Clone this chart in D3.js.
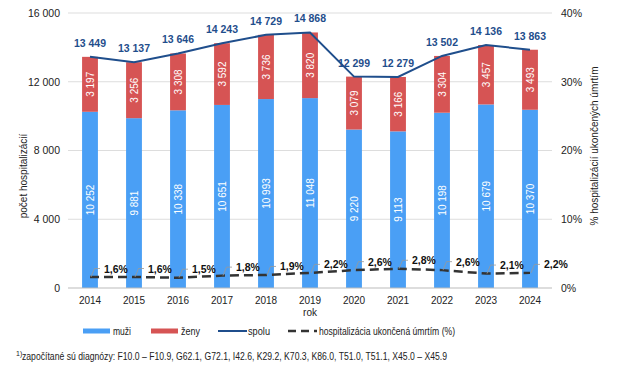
<!DOCTYPE html>
<meta charset="utf-8">
<style>
  body { margin: 0; background: #fff; }
  text { font-family: "Liberation Sans", Arial, sans-serif; }
</style>
<script src="https://d3js.org/d3.v7.min.js"></script>
<body>
<script>

var width = 621,
    height = 370,
    margin = {top: 13, right: 69, bottom: 82, left: 68};

// data
var years = ["2014","2015","2016","2017","2018","2019","2020","2021","2022","2023","2024"];
var muzi  = [10252, 9881, 10338, 10651, 10993, 11048, 9220, 9113, 10198, 10679, 10370];
var zeny  = [3197, 3256, 3308, 3592, 3736, 3820, 3079, 3166, 3304, 3457, 3493];
var spolu = [13449, 13137, 13646, 14243, 14729, 14868, 12299, 12279, 13502, 14136, 13863];
var umrtie = [1.6, 1.6, 1.5, 1.8, 1.9, 2.2, 2.6, 2.8, 2.6, 2.1, 2.2];
var leftTicks = [0, 4000, 8000, 12000, 16000];
var rightTicks = [0, 10, 20, 30, 40];

var cBlue = "#4a9ff5",
    cRed = "#d65454",
    cNavy = "#1f4e8c",
    cDash = "#333333";

var fmt = function(v){ return d3.format(",")(v).replace(/,/g, " "); };
var fmtPct = function(v){ return String(v.toFixed(1)).replace(".", ",") + "%"; };

var svg = d3.select("body").append("svg")
    .attr("width", width)
    .attr("height", height);

var x = d3.scaleBand()
    .domain(years)
    .range([margin.left, width - margin.right])
    .paddingInner(0.64)
    .paddingOuter(0.32);

var y = d3.scaleLinear().domain([0, 16000]).range([height - margin.bottom, margin.top]);
var yP = d3.scaleLinear().domain([0, 40]).range([height - margin.bottom, margin.top]);

var cx = function(i){ return x(years[i]) + x.bandwidth()/2; };

// grid
svg.append("g").selectAll("line").data(leftTicks.slice(1)).enter().append("line")
    .attr("x1", margin.left).attr("x2", width - margin.right)
    .attr("y1", function(d){ return y(d); }).attr("y2", function(d){ return y(d); })
    .attr("stroke", "#dddddd").attr("stroke-width", 1);

// left axis
var gl = svg.append("g")
    .attr("transform", "translate(" + margin.left + ",0)")
    .call(d3.axisLeft(y).tickValues(leftTicks).tickFormat(fmt).tickSize(0).tickPadding(8));
gl.select(".domain").remove();
gl.selectAll("text").attr("font-size", 10.5).attr("fill", "#222");

// right axis
var gr = svg.append("g")
    .attr("transform", "translate(" + (width - margin.right) + ",0)")
    .call(d3.axisRight(yP).tickValues(rightTicks).tickFormat(function(d){ return d + "%"; }).tickSize(0).tickPadding(9));
gr.select(".domain").remove();
gr.selectAll("text").attr("font-size", 10.5).attr("fill", "#222");

// bars
var bars = svg.append("g");
bars.selectAll(".muzi").data(muzi).enter().append("rect")
    .attr("class", "muzi")
    .attr("x", function(d, i){ return x(years[i]); })
    .attr("width", x.bandwidth())
    .attr("y", function(d){ return y(d); })
    .attr("height", function(d){ return y(0) - y(d); })
    .attr("fill", cBlue);
bars.selectAll(".zeny").data(zeny).enter().append("rect")
    .attr("class", "zeny")
    .attr("x", function(d, i){ return x(years[i]); })
    .attr("width", x.bandwidth())
    .attr("y", function(d, i){ return y(muzi[i] + d); })
    .attr("height", function(d, i){ return y(muzi[i]) - y(muzi[i] + d); })
    .attr("fill", cRed);

// bar labels
bars.selectAll(".lm").data(muzi).enter().append("text")
    .attr("transform", function(d, i){ return "translate(" + (cx(i) + 3.5) + "," + y(d/2) + ") rotate(-90)"; })
    .attr("text-anchor", "middle")
    .attr("font-size", 10).attr("fill", "#fff")
    .text(fmt);
bars.selectAll(".lz").data(zeny).enter().append("text")
    .attr("transform", function(d, i){ return "translate(" + (cx(i) + 3.5) + "," + y(muzi[i] + d/2) + ") rotate(-90)"; })
    .attr("text-anchor", "middle")
    .attr("font-size", 10).attr("fill", "#fff")
    .text(fmt);

// baseline
svg.append("line")
    .attr("x1", margin.left).attr("x2", width - margin.right)
    .attr("y1", y(0)).attr("y2", y(0))
    .attr("stroke", "#bbbbbb").attr("stroke-width", 1);

// spolu line
svg.append("path")
    .datum(spolu)
    .attr("fill", "none")
    .attr("stroke", cNavy)
    .attr("stroke-width", 2)
    .attr("d", d3.line().x(function(d, i){ return cx(i); }).y(function(d){ return y(d); }));
svg.append("g").selectAll("text").data(spolu).enter().append("text")
    .attr("x", function(d, i){ return cx(i); })
    .attr("y", function(d){ return y(d) - 10; })
    .attr("text-anchor", "middle")
    .attr("font-size", 10.5).attr("font-weight", "bold").attr("fill", cNavy)
    .text(fmt);

// umrtie dashed line
svg.append("path")
    .datum(umrtie)
    .attr("fill", "none")
    .attr("stroke", cDash)
    .attr("stroke-width", 2.5)
    .attr("stroke-dasharray", "9,5")
    .attr("d", d3.line().x(function(d, i){ return cx(i); }).y(function(d){ return yP(d); }));
var pl = svg.append("g");
pl.selectAll("path").data(umrtie).enter().append("path")
    .attr("fill", "none").attr("stroke", "#999").attr("stroke-width", 0.8)
    .attr("d", function(d, i){
      var px = cx(i) + 1, py = yP(d);
      return "M" + px + "," + py + "L" + (px + 3.5) + "," + (py - 8.5) + "L" + (px + 9) + "," + (py - 8.5);
    });
pl.selectAll("text").data(umrtie).enter().append("text")
    .attr("x", function(d, i){ return cx(i) + 14; })
    .attr("y", function(d){ return yP(d) - 4.5; })
    .attr("font-size", 10.5).attr("font-weight", "bold").attr("fill", "#111")
    .text(fmtPct);

// x labels
svg.append("g").selectAll("text").data(years).enter().append("text")
    .attr("x", function(d, i){ return cx(i); })
    .attr("y", y(0) + 16)
    .attr("text-anchor", "middle")
    .attr("font-size", 10).attr("fill", "#222")
    .text(function(d){ return d; });

svg.append("text")
    .attr("x", 310).attr("y", 316)
    .attr("text-anchor", "middle")
    .attr("font-size", 10).attr("fill", "#222")
    .text("rok");

// axis titles
svg.append("text")
    .attr("transform", "translate(27,176) rotate(-90)")
    .attr("text-anchor", "middle")
    .attr("font-size", 10).attr("fill", "#222")
    .text("počet hospitalizácií");
svg.append("text")
    .attr("transform", "translate(598,146) rotate(-90)")
    .attr("text-anchor", "middle")
    .attr("font-size", 10).attr("fill", "#222")
    .text("% hospitalizácií ukončených úmrtím");

// legend
var legendItems = [
  {name: "muži", type: "rect", color: cBlue, x: 83, w: 18},
  {name: "ženy", type: "rect", color: cRed, x: 151, w: 19},
  {name: "spolu", type: "line", color: cNavy, x: 218, w: 22},
  {name: "hospitalizácia ukončená úmrtím (%)", type: "dash", color: cDash, x: 288, w: 136}
];
var lg = svg.append("g").attr("transform", "translate(0,331)");
legendItems.forEach(function(d){
  if (d.type === "rect") {
    lg.append("rect").attr("x", d.x).attr("y", -2.5).attr("width", 27).attr("height", 5).attr("fill", d.color);
  } else if (d.type === "line") {
    lg.append("line").attr("x1", d.x).attr("x2", d.x + 29).attr("y1", 0).attr("y2", 0)
      .attr("stroke", d.color).attr("stroke-width", 2);
  } else {
    lg.append("line").attr("x1", d.x).attr("x2", d.x + 29).attr("y1", 0).attr("y2", 0)
      .attr("stroke", d.color).attr("stroke-width", 2.5).attr("stroke-dasharray", "8,5");
  }
  lg.append("text")
    .attr("x", d.x + (d.type === "dash" ? 31 : 30))
    .attr("y", 3.5)
    .attr("font-size", 10).attr("fill", "#222")
    .attr("textLength", d.w).attr("lengthAdjust", "spacingAndGlyphs")
    .text(d.name);
});

// footnote
var fn = svg.append("text").attr("x", 16).attr("y", 360).attr("fill", "#222");
fn.append("tspan").attr("font-size", 7).attr("dy", -4).text("1)");
svg.append("text").attr("x", 22).attr("y", 360).attr("fill", "#222")
  .attr("font-size", 10)
  .attr("textLength", 425).attr("lengthAdjust", "spacingAndGlyphs")
  .text("započítané sú diagnózy: F10.0 – F10.9, G62.1, G72.1, I42.6, K29.2, K70.3, K86.0, T51.0, T51.1, X45.0 – X45.9");

</script>
</body>
